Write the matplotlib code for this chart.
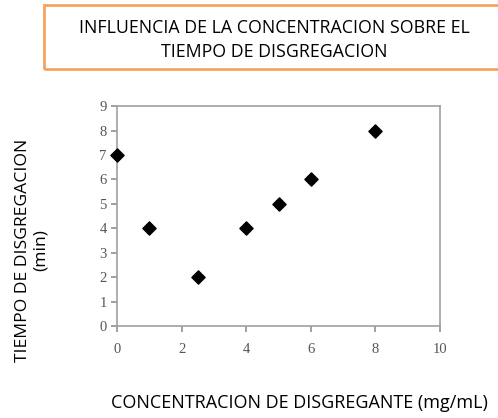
import matplotlib
matplotlib.use('Agg')
import matplotlib.pyplot as plt
from matplotlib.patches import Rectangle

# concentracion (mg/mL) vs tiempo de disgregacion (min)
concentracion = [0, 1, 2.5, 4, 5, 6, 8]
tiempo = [7, 4, 2, 4, 5, 6, 8]

x_ticks = [0, 2, 4, 6, 8, 10]
y_ticks = [0, 1, 2, 3, 4, 5, 6, 7, 8, 9]

fig = plt.figure(figsize=(4.98, 4.18), dpi=100)
ax = fig.add_axes([0.235, 0.22, 0.6485, 0.526])

ax.scatter(concentracion, tiempo, marker='D', s=45, color='black', zorder=3, clip_on=False)

ax.set_xlim(0, 10)
ax.set_ylim(0, 9)
ax.set_xticks(x_ticks)
ax.set_yticks(y_ticks)
for s in ax.spines.values():
    s.set_color('#a0a0a0')
    s.set_linewidth(1.2)
ax.tick_params(direction='out', length=4, width=1.2, color='#909090',
               labelcolor='#555555', labelsize=10.5)
for lab in ax.get_xticklabels() + ax.get_yticklabels():
    lab.set_family('Liberation Serif')
ax.tick_params(axis='x', pad=8)

# etiquetas de ejes
fig.text(0.064, 1 - 250 / 418, 'TIEMPO DE DISGREGACION\n(min)', rotation=90,
         ha='center', va='center', fontsize=12.6, family='Open Sans',
         linespacing=1.2)
fig.text(0.222, 1 - 403 / 418, 'CONCENTRACION DE DISGREGANTE (mg/mL)', ha='left',
         va='center', fontsize=13, family='Open Sans')

# titulo en recuadro
fig.patches.append(Rectangle((44 / 498, 1 - 69 / 418), 470 / 498, 64 / 418,
                             transform=fig.transFigure, fill=False,
                             edgecolor='#f4a460', linewidth=2, clip_on=False))
fig.text(274 / 498, 1 - 40 / 418, 'INFLUENCIA DE LA CONCENTRACION SOBRE EL\nTIEMPO DE DISGREGACION',
         ha='center', va='center', fontsize=12.8, family='Open Sans',
         linespacing=1.45)

fig.savefig('out.png', dpi=100)
